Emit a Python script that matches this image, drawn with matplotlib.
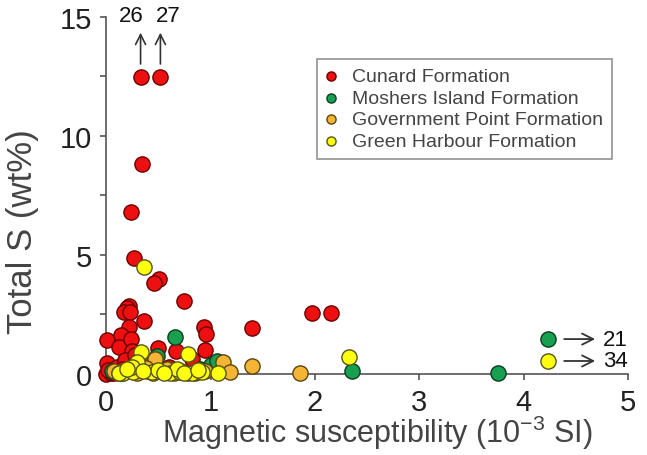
import numpy as np
import matplotlib
matplotlib.use("Agg")
import matplotlib.pyplot as plt

plt.rcParams['font.family'] = ['Liberation Sans', 'DejaVu Sans']
plt.rcParams['mathtext.fontset'] = 'custom'
plt.rcParams['mathtext.rm'] = 'Liberation Sans'
plt.rcParams['mathtext.it'] = 'Liberation Sans'

# data: magnetic susceptibility (1e-3 SI) and total S (wt%)
cunard_x = [0.33, 0.52, 0.34, 0.24, 0.27, 0.51, 0.46, 0.75, 0.22, 0.20, 0.17, 0.23,
            0.36, 0.22, 0.01, 0.14, 0.12, 0.24, 0.94, 0.96, 0.95, 0.67, 0.50, 0.25,
            0.00, 0.01, 1.40, 1.97, 2.15, 0.82, 0.10, 0.18, 0.28, 0.05, 0.30, 0.15,
            0.40, 0.60, 0.70, 0.02, 0.08]
cunard_y = [26.0, 27.0, 8.8, 6.8, 4.85, 4.0, 3.8, 3.05, 2.85, 2.75, 2.6, 2.6,
            2.2, 1.97, 1.42, 1.63, 1.13, 1.46, 1.97, 1.67, 1.0, 0.97, 1.08, 0.97,
            0.0, 0.46, 1.93, 2.55, 2.55, 0.63, 0.3, 0.6, 0.8, 0.05, 0.5, 0.2,
            0.4, 0.3, 0.1, 0.15, 0.02]

moshers_x = [0.66, 1.00, 1.06, 0.49, 0.06, 2.35, 3.75, 21.0, 0.15, 0.40, 0.90, 0.60]
moshers_y = [1.55, 0.38, 0.55, 0.75, 0.13, 0.12, 0.05, 1.46, 0.05, 0.10, 0.20, 0.15]

govpoint_x = [1.40, 1.12, 1.19, 0.47, 1.86, 0.08, 0.20, 0.30, 0.55, 0.65, 0.72,
              0.85, 0.95, 0.38, 0.58, 0.12, 0.45, 0.78]
govpoint_y = [0.35, 0.50, 0.08, 0.63, 0.05, 0.10, 0.15, 0.05, 0.10, 0.02, 0.12,
              0.05, 0.10, 0.25, 0.20, 0.02, 0.04, 0.02]

greenh_x = [0.36, 0.33, 0.78, 1.07, 2.33, 34.0, 0.16, 0.26, 0.44, 0.61, 0.71,
            0.82, 0.92, 0.30, 0.25, 0.50, 0.12, 0.35, 0.68, 0.75, 0.88, 0.55, 0.20]
greenh_y = [4.5, 0.92, 0.84, 0.04, 0.70, 0.54, 0.05, 0.08, 0.06, 0.05, 0.07,
            0.04, 0.08, 0.50, 0.30, 0.15, 0.05, 0.10, 0.20, 0.05, 0.15, 0.05, 0.20]

labels = ['Cunard Formation', 'Moshers Island Formation',
          'Government Point Formation', 'Green Harbour Formation']
faces = ['#ee1010', '#17a050', '#f4b534', '#ffff10']
edges = ['#6a0000', '#0b3d1e', '#5a4410', '#55551a']

x_cap = 4.23
y_cap = 12.45
top_label_shift = [-7, 6]   # points, keeps "26" and "27" apart

fig = plt.figure(figsize=(6.47, 4.56), dpi=100)
ax = fig.add_axes([0.164, 0.178, 0.807, 0.783])

series = [(cunard_x, cunard_y), (moshers_x, moshers_y),
          (govpoint_x, govpoint_y), (greenh_x, greenh_y)]
n_top = 0
for (xs, ys), lab, fc, ec in zip(series, labels, faces, edges):
    xs = np.asarray(xs)
    ys = np.asarray(ys)
    ax.scatter(np.minimum(xs, x_cap), np.minimum(ys, y_cap), s=120,
               facecolor=fc, edgecolor=ec, linewidth=1.0, clip_on=False,
               zorder=3, label=lab)
    # off-scale values: arrows with real value
    for xv, yv in zip(xs, ys):
        if yv > y_cap:
            ax.annotate('', xy=(xv, 14.45), xytext=(xv, 12.9),
                        arrowprops=dict(arrowstyle='->', color='#333333',
                                        lw=1.2, mutation_scale=18),
                        annotation_clip=False)
            ax.annotate(f'{yv:g}', xy=(xv, 14.6), xytext=(top_label_shift[n_top % 2], 0),
                        textcoords='offset points', ha='center', va='bottom',
                        fontsize=16, color='#111111', annotation_clip=False)
            n_top += 1
        if xv > x_cap:
            ax.annotate('', xy=(4.71, yv), xytext=(4.36, yv),
                        arrowprops=dict(arrowstyle='->', color='#333333',
                                        lw=1.3, mutation_scale=20),
                        annotation_clip=False)
            ax.text(4.76, yv, f'{xv:g}', ha='left', va='center',
                    fontsize=16, color='#111111', clip_on=False)

ax.set_xlim(0, 5)
ax.set_ylim(0, 15)
ax.set_xticks([0, 1, 2, 3, 4, 5])
ax.set_yticks([0, 5, 10, 15])
ax.set_yticks([2.5, 7.5, 12.5], minor=True)

for side in ['top', 'right']:
    ax.spines[side].set_visible(False)
for side in ['left', 'bottom']:
    ax.spines[side].set_color('#555555')
    ax.spines[side].set_linewidth(1.2)

ax.tick_params(which='both', direction='out', length=4, width=1.2,
               color='#555555', labelsize=21, labelcolor='#222222', pad=6)

ax.set_xlabel(r'Magnetic susceptibility (10$^{-3}$ SI)', fontsize=22,
              color='#444444')
ax.set_ylabel('Total S (wt%)', fontsize=25, color='#444444')
ax.xaxis.set_label_coords(0.52, -0.11)
ax.yaxis.set_label_coords(-0.128, 0.40)

leg = ax.legend(loc='upper right', bbox_to_anchor=(0.969, 0.882),
                fontsize=14, frameon=True, fancybox=False,
                markerscale=0.6, handletextpad=0.85, labelspacing=0.2,
                borderpad=0.45, handlelength=0.5, borderaxespad=0)
leg.get_frame().set_edgecolor('#777777')
leg.get_frame().set_linewidth(1.2)
for t in leg.get_texts():
    t.set_color('#444444')

fig.savefig('out.png', dpi=100)
